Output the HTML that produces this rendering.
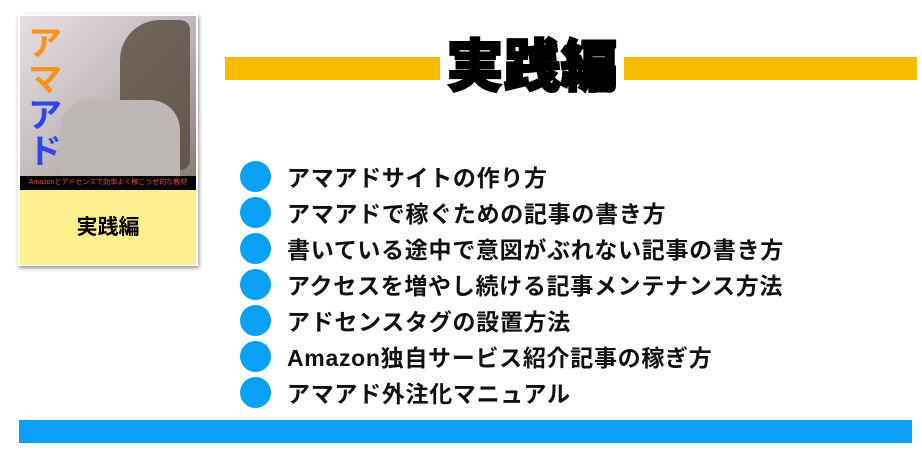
<!DOCTYPE html>
<html><head><meta charset="utf-8"><style>
body{margin:0;width:922px;height:455px;background:#fff;position:relative;overflow:hidden;font-family:"Liberation Sans","Noto Sans CJK JP",sans-serif}
.a{position:absolute}
.li{position:absolute;left:240px;height:32px;display:flex;align-items:center}
.li i{display:block;width:31px;height:31px;border-radius:50%;background:#0aa0f5;margin-right:16px;flex:none}
.li span{font-size:23px;font-weight:bold;color:#111;letter-spacing:0.7px;white-space:nowrap}
</style></head><body>
<div class="a" style="left:18px;top:14px;width:180px;height:252px;box-shadow:1px 2px 4px rgba(0,0,0,.45);background:#fff"></div>
<div class="a" style="left:20px;top:16px;width:176px;height:160px;background:linear-gradient(135deg,#e6dfe0 0%,#cfc6c8 35%,#b9b2b0 60%,#8a7d75 100%)"></div>
<div class="a" style="left:120px;top:20px;width:70px;height:150px;background:#5a4a3e;border-radius:40px 10px 10px 30px;opacity:.8"></div>
<div class="a" style="left:60px;top:100px;width:120px;height:76px;background:#bdb8b6;border-radius:30px 30px 0 0"></div>
<div class="a" style="left:28px;top:26px;font-size:34px;font-weight:bold;line-height:36px;width:40px;color:#f7941d">ア<br>マ<br><span style="color:#2b45f0">ア<br>ド</span></div>
<div class="a" style="left:20px;top:176px;width:176px;height:14px;background:#000;color:#e44;font-size:7px;line-height:14px;text-align:center;white-space:nowrap;overflow:hidden">Amazonとアドセンスで効率よく稼ごうぜ的な教材</div>
<div class="a" style="left:20px;top:190px;width:176px;height:75px;background:#fef08f;font-size:21px;font-weight:bold;text-align:center;line-height:75px">実践編</div>
<div class="a" style="left:225px;top:57px;width:215px;height:23px;background:#f6bc00"></div>
<div class="a" style="left:624px;top:57px;width:293px;height:23px;background:#f6bc00"></div>
<div class="a" style="left:440px;top:34px;width:184px;text-align:center;font-size:57px;font-weight:900;line-height:66px;color:#000;-webkit-text-stroke:2px #000">実践編</div>
<div class="li" style="top:160px"><i></i><span>アマアドサイトの作り方</span></div>
<div class="li" style="top:196px"><i></i><span>アマアドで稼ぐための記事の書き方</span></div>
<div class="li" style="top:232px"><i></i><span>書いている途中で意図がぶれない記事の書き方</span></div>
<div class="li" style="top:268px"><i></i><span>アクセスを増やし続ける記事メンテナンス方法</span></div>
<div class="li" style="top:304px"><i></i><span>アドセンスタグの設置方法</span></div>
<div class="li" style="top:340px"><i></i><span>Amazon独自サービス紹介記事の稼ぎ方</span></div>
<div class="li" style="top:376px"><i></i><span>アマアド外注化マニュアル</span></div>
<div class="a" style="left:19px;top:420px;width:893px;height:23px;background:#0aa0f5"></div>
</body></html>
